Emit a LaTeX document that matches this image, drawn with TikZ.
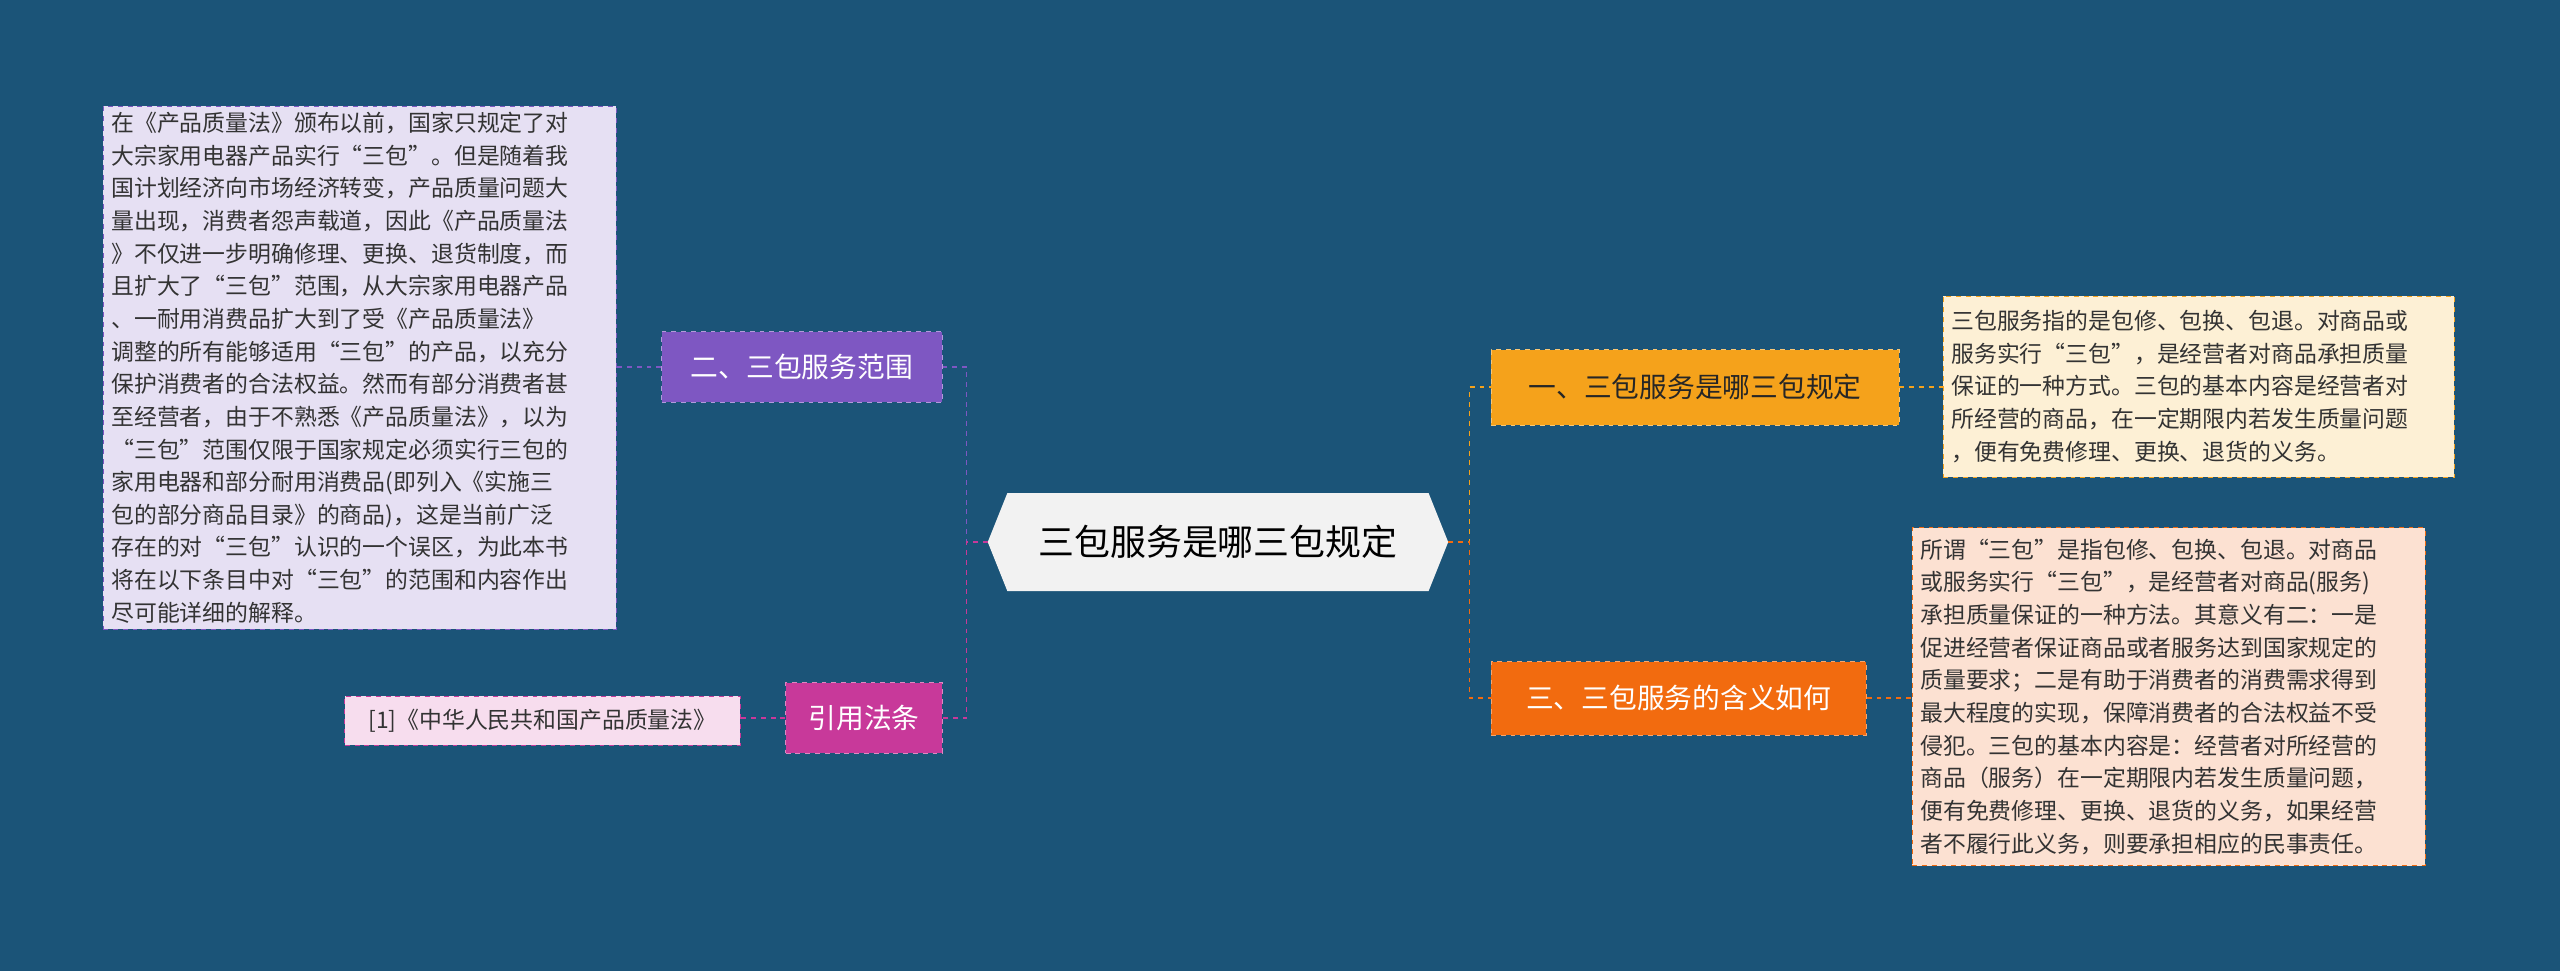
\documentclass[tikz,border=0pt]{standalone}
\usepackage{fontspec}
\setmainfont{Noto Sans CJK SC}
\definecolor{bg}{HTML}{1B5478}
\definecolor{cen}{HTML}{F2F2F2}
\definecolor{purp}{HTML}{7E57C2}
\definecolor{mag}{HTML}{C8399A}
\definecolor{org}{HTML}{F5A21B}
\definecolor{red1}{HTML}{F26B0F}
\definecolor{lpurp}{HTML}{E6E0F3}
\definecolor{lmag}{HTML}{F7DDEE}
\definecolor{lorg}{HTML}{FDF0D5}
\definecolor{lred}{HTML}{FCE1D2}
\tikzset{
 br/.style={draw=#1!60!white,fill=#1,dashed,text=white,font=\fontsize{17}{20}\selectfont,inner sep=0pt,anchor=north west},
 leaf/.style={draw=#1,dashed,text=black!80,font=\fontsize{14}{20}\selectfont,inner sep=0pt,anchor=north west,align=left},
 con/.style={draw=#1,dashed,line width=1pt}
}
\begin{document}
\begin{tikzpicture}[x=1pt,y=-1pt]
\fill[bg] (0,0) rectangle (1568,595);
\useasboundingbox (0,0) rectangle (1568,595);
% center
\fill[cen] (617,302) -- (875,302) -- (887,332) -- (875,362) -- (617,362) -- (605,332) -- cycle;
\node (c) at (746,332) {\fontsize{22}{26}\selectfont 三包服务是哪三包规定};
\coordinate (cl) at (605,332); \coordinate (cr) at (887,332);
% branches
\node[br=purp,minimum width=172pt,minimum height=43pt] (b1) at (405,203) {二、三包服务范围};
\node[br=mag,minimum width=96pt,minimum height=43pt] (b2) at (481,418) {引用法条};
\node[br=org,minimum width=250pt,minimum height=46pt,text=black!85] (b3) at (913,214) {一、三包服务是哪三包规定};
\node[br=red1,minimum width=230pt,minimum height=45pt] (b4) at (913,405) {三、三包服务的含义如何};
% leaves
\node[leaf=purp,fill=lpurp,minimum width=314pt,minimum height=320pt,text width=304pt,inner xsep=5pt] (l1) at (63,65) {在《产品质量法》颁布以前，国家只规定了对\\大宗家用电器产品实行“三包”。但是随着我\\国计划经济向市场经济转变，产品质量问题大\\量出现，消费者怨声载道，因此《产品质量法\\》不仅进一步明确修理、更换、退货制度，而\\且扩大了“三包”范围，从大宗家用电器产品\\、一耐用消费品扩大到了受《产品质量法》\\调整的所有能够适用“三包”的产品，以充分\\保护消费者的合法权益。然而有部分消费者甚\\至经营者，由于不熟悉《产品质量法》，以为\\“三包”范围仅限于国家规定必须实行三包的\\家用电器和部分耐用消费品(即列入《实施三\\包的部分商品目录》的商品)，这是当前广泛\\存在的对“三包”认识的一个误区，为此本书\\将在以下条目中对“三包”的范围和内容作出\\尽可能详细的解释。};
\node[leaf=mag,fill=lmag,minimum width=242pt,minimum height=30pt,align=center] (l2) at (211,426) {[1]《中华人民共和国产品质量法》};
\node[leaf=org,fill=lorg,minimum width=313pt,minimum height=111pt,text width=303pt,inner xsep=5pt] (l3) at (1190,181) {三包服务指的是包修、包换、包退。对商品或\\服务实行“三包”，是经营者对商品承担质量\\保证的一种方式。三包的基本内容是经营者对\\所经营的商品，在一定期限内若发生质量问题\\，便有免费修理、更换、退货的义务。};
\node[leaf=red1,fill=lred,minimum width=314pt,minimum height=207pt,text width=304pt,inner xsep=5pt] (l4) at (1171,323) {所谓“三包”是指包修、包换、包退。对商品\\或服务实行“三包”，是经营者对商品(服务)\\承担质量保证的一种方法。其意义有二：一是\\促进经营者保证商品或者服务达到国家规定的\\质量要求；二是有助于消费者的消费需求得到\\最大程度的实现，保障消费者的合法权益不受\\侵犯。三包的基本内容是：经营者对所经营的\\商品（服务）在一定期限内若发生质量问题，\\便有免费修理、更换、退货的义务，如果经营\\者不履行此义务，则要承担相应的民事责任。};
% connectors
\draw[con=purp] (cl) -- ++(-13,0) |- (b1.east);
\draw[con=mag] (cl) -- ++(-13,0) |- (b2.east);
\draw[con=org] (cr) -- ++(13,0) |- (b3.west);
\draw[con=red1] (cr) -- ++(13,0) |- (b4.west);
\draw[con=purp] (b1.west) -- (l1.east |- b1.west);
\draw[con=mag] (b2.west) -- (l2.east |- b2.west);
\draw[con=org] (b3.east) -- (l3.west |- b3.east);
\draw[con=red1] (b4.east) -- (l4.west |- b4.east);
\end{tikzpicture}
\end{document}
